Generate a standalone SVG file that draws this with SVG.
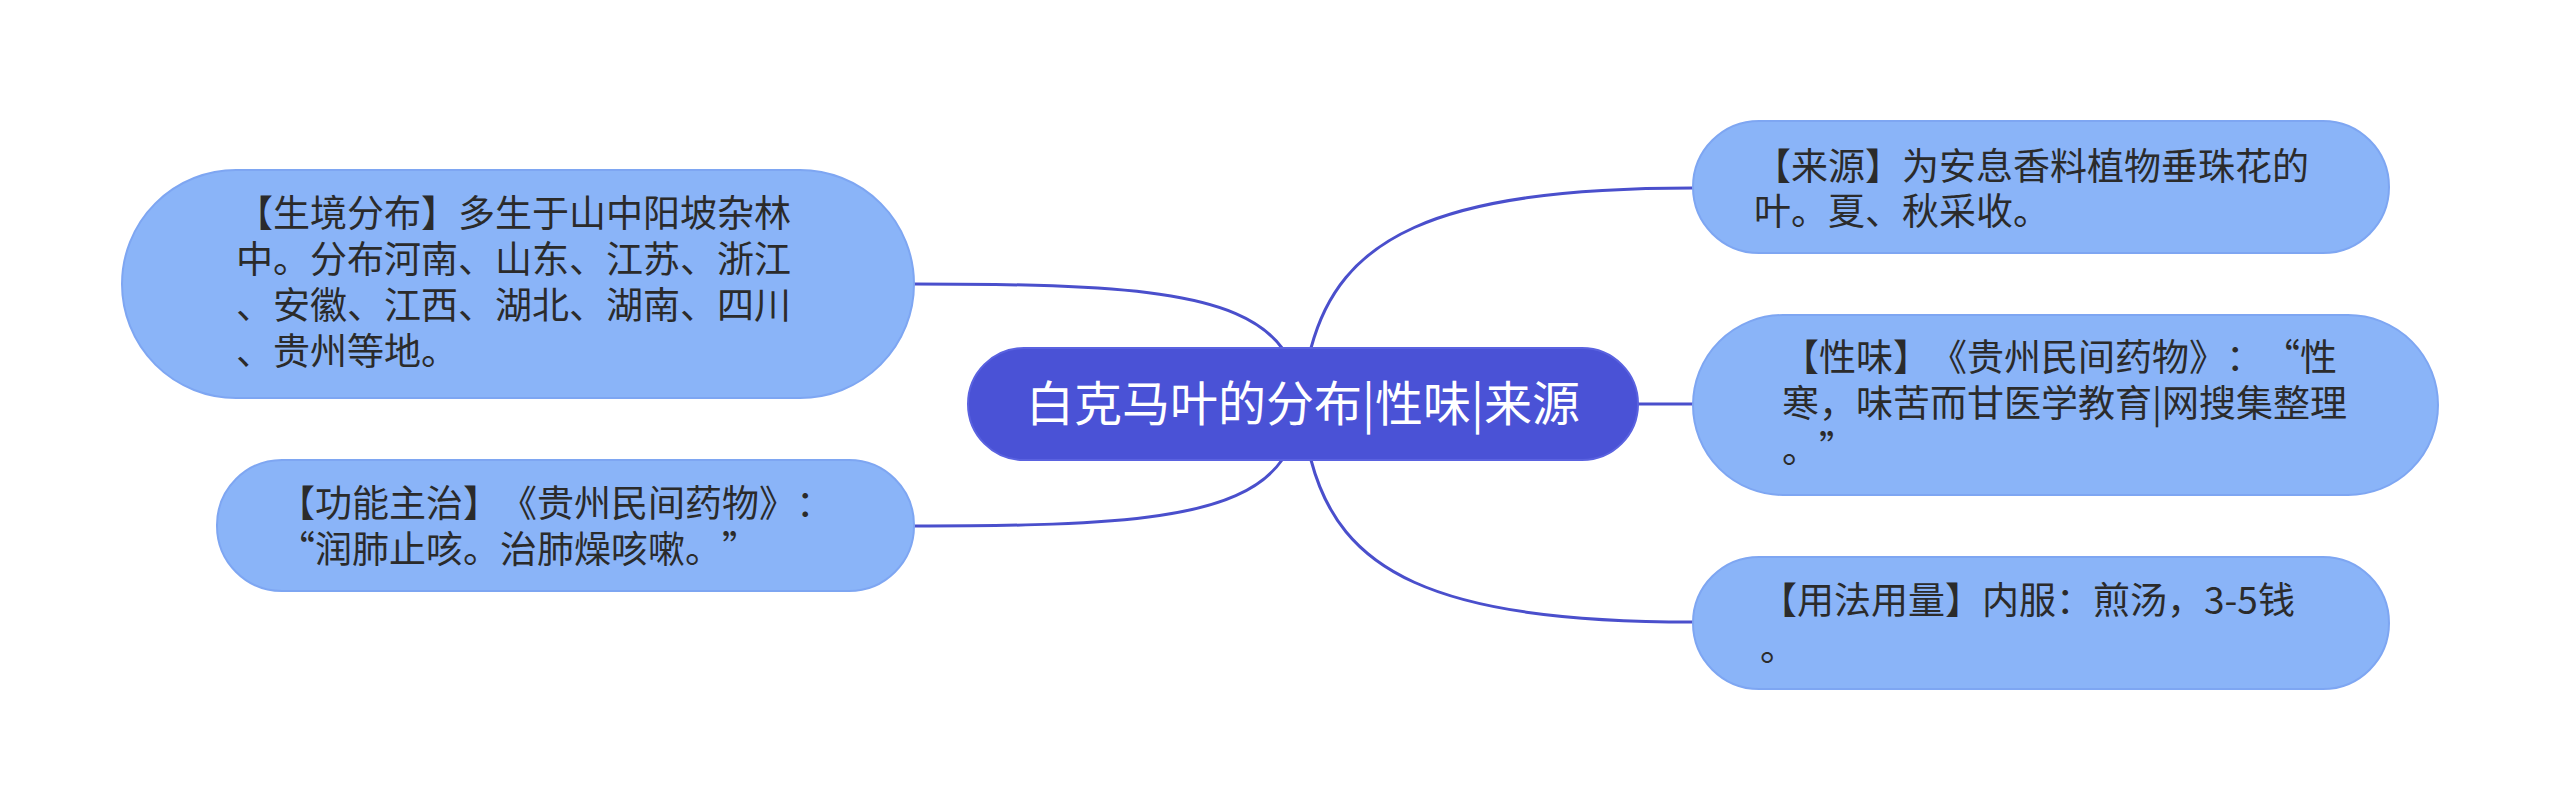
<svg xmlns="http://www.w3.org/2000/svg" width="2560" height="811" viewBox="0 0 2560 811">
<style>
.node{fill:#8ab4f8;stroke:#7ea6f2;stroke-width:2}
.root{fill:#4a52d6;stroke:#5a62e0;stroke-width:2}
.t{font-family:"Noto Sans CJK SC","Noto Sans",sans-serif;font-size:37px;fill:#2b2b2b;text-spacing-trim:space-all;font-kerning:none}
.rt{font-family:"Noto Sans CJK SC","Noto Sans",sans-serif;font-size:48px;fill:#ffffff;text-spacing-trim:space-all}
.edge{fill:none;stroke:#4a4fcc;stroke-width:3}
</style>
<rect width="2560" height="811" fill="#ffffff"/>
<g id="connectors">
<path class="edge" d="M1282 348 C1240 290 1120 284 914 284"/>
<path class="edge" d="M1282 460 C1240 520 1120 526 914 526"/>
<path class="edge" d="M1311 348 C1340 240 1430 188 1693 188"/>
<path class="edge" d="M1638 404 L1693 404"/>
<path class="edge" d="M1311 460 C1340 570 1430 622 1693 622"/>
</g>
<g id="root">
<rect class="root" x="968" y="348" width="670" height="112" rx="56"/>
<text class="rt" x="1303" y="421" text-anchor="middle">白克马叶的分布|性味|来源</text>
</g>
<g id="n-habitat">
<rect class="node" x="122" y="170" width="792" height="228" rx="114"/>
<text class="t"><tspan x="236" y="227">【生境分布】多生于山中阳坡杂林</tspan><tspan x="236" y="273">中。分布河南、山东、江苏、浙江</tspan><tspan x="236" y="319">、安徽、江西、湖北、湖南、四川</tspan><tspan x="236" y="365">、贵州等地。</tspan></text>
</g>
<g id="n-function">
<rect class="node" x="217" y="460" width="697" height="131" rx="65"/>
<text class="t"><tspan x="278" y="517">【功能主治】《贵州民间药物》：</tspan><tspan x="278" y="563">“润肺止咳。治肺燥咳嗽。”</tspan></text>
</g>
<g id="n-source">
<rect class="node" x="1693" y="121" width="696" height="132" rx="66"/>
<text class="t"><tspan x="1754" y="180">【来源】为安息香料植物垂珠花的</tspan><tspan x="1754" y="225">叶。夏、秋采收。</tspan></text>
</g>
<g id="n-nature">
<rect class="node" x="1693" y="315" width="745" height="180" rx="90"/>
<text class="t"><tspan x="1782" y="371">【性味】《贵州民间药物》：“性</tspan><tspan x="1782" y="417">寒，味苦而甘医学教育|网搜集整理</tspan><tspan x="1782" y="463">。”</tspan></text>
</g>
<g id="n-usage">
<rect class="node" x="1693" y="557" width="696" height="132" rx="66"/>
<text class="t"><tspan x="1760" y="614">【用法用量】内服：煎汤，3-5钱</tspan><tspan x="1760" y="661">。</tspan></text>
</g>
</svg>
